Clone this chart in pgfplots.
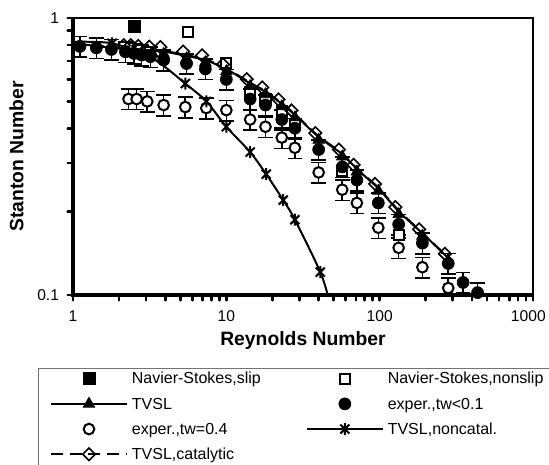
\documentclass[border=0pt]{standalone}
\usepackage{fontspec}
\setmainfont{Liberation Sans}
\usepackage{pgfplots}
\pgfplotsset{compat=1.18}
\pgfdeclareplotmark{xstar}{%
  \pgfpathmoveto{\pgfqpoint{0pt}{\pgfplotmarksize}}%
  \pgfpathlineto{\pgfqpoint{0pt}{-\pgfplotmarksize}}%
  \pgfpathmoveto{\pgfqpoint{-0.75\pgfplotmarksize}{-0.75\pgfplotmarksize}}%
  \pgfpathlineto{\pgfqpoint{0.75\pgfplotmarksize}{0.75\pgfplotmarksize}}%
  \pgfpathmoveto{\pgfqpoint{-0.75\pgfplotmarksize}{0.75\pgfplotmarksize}}%
  \pgfpathlineto{\pgfqpoint{0.75\pgfplotmarksize}{-0.75\pgfplotmarksize}}%
  \pgfusepathqstroke}
\begin{document}
\begin{tikzpicture}
\begin{axis}[
  scale only axis, width=345pt, height=207.75pt,
  xmode=log, ymode=log, xmin=1, xmax=1000, ymin=0.1, ymax=1,
  xtick={1,10,100,1000}, xticklabels={1,10,100,{\kern-7pt 1000}},
  ytick={0.1,1}, yticklabels={0.1,1},
  minor xtick={2,3,4,5,6,7,8,9,20,30,40,50,60,70,80,90,200,300,400,500,600,700,800,900},
  minor ytick={0.2,0.3,0.4,0.5,0.6,0.7,0.8,0.9},
  tick pos=left, tick align=outside,
  major tick length=4pt, minor tick length=4pt,
  every tick/.style={black, line width=2pt, line cap=round},
  axis line style={line width=1.5pt},
  /pgf/number format/assume math mode=true,
  tick label style={font=\fontsize{11.7pt}{14pt}\selectfont},
  xticklabel style={yshift=-4pt},
  yticklabel style={xshift=-3pt},
  xlabel={Reynolds Number}, ylabel={Stanton Number},
  xlabel style={at={(axis description cs:0.5,-0.163)}, anchor=center, font=\bfseries\fontsize{14.5pt}{17pt}\selectfont},
  ylabel style={at={(axis description cs:-0.123,0.5)}, anchor=center, font=\bfseries\fontsize{14.5pt}{17pt}\selectfont},
  legend columns=2, legend cell align=left,
  legend image code/.code={\draw[#1, mark indices={2}] plot coordinates {(0cm,0cm) (1cm,0cm) (2cm,0cm)};},
  legend style={at={(axis description cs:-0.0754,-0.262)}, anchor=north west,
    draw=black!55, line width=0.6pt, inner xsep=8.5pt, inner ysep=2.5pt, row sep=7.9pt,
    font=\fontsize{12pt}{14pt}\selectfont,
    nodes={inner xsep=3pt, inner ysep=0pt, text height=9.5pt, text depth=1.5pt, xshift=-6.5pt},
    /tikz/every even column/.append style={column sep=30.8pt}},
]
% ---- legend images (in the reference's order)
\addlegendimage{black, only marks, mark=square*, mark size=4.5pt, mark options={line width=0.5pt}}
\addlegendentry{Navier-Stokes,slip}
\addlegendimage{black, only marks, mark=square*, mark size=3.8pt, mark options={fill=white, line width=1.5pt}}
\addlegendentry{Navier-Stokes,nonslip}
\addlegendimage{black, line width=1.5pt, mark=triangle*, mark size=5pt, mark options={solid, line width=0.5pt}}
\addlegendentry{TVSL}
\addlegendimage{black, only marks, mark=*, mark size=4.5pt, mark options={line width=0.5pt}}
\addlegendentry{exper.,tw<0.1}
\addlegendimage{black, only marks, mark=*, mark size=4pt, mark options={fill=white, line width=1.5pt}}
\addlegendentry{exper.,tw=0.4}
\addlegendimage{black, line width=1.5pt, mark=xstar, mark size=4.5pt, mark options={solid, line width=1.5pt}}
\addlegendentry{TVSL,noncatal.}
\addlegendimage{black, line width=1.2pt, dash pattern=on 9pt off 5pt, mark=square, mark size=3.3pt, mark options={solid, rotate=45, line width=1.2pt}}
\addlegendentry{TVSL,catalytic}
% ---- data
% Navier-Stokes, slip
\addplot[forget plot, black, only marks, mark=square*, mark size=4.5pt, mark options={line width=0.5pt}]
  coordinates {(2.5,0.935)};
% Navier-Stokes, nonslip
\addplot[forget plot, black, only marks, mark=square*, mark size=3.8pt, mark options={fill=white, line width=1.5pt}]
  coordinates {(5.6,0.89) (10,0.69) (14.3,0.54) (18,0.51) (23,0.46) (28,0.41) (57,0.28) (133,0.165)};
% TVSL
\addplot[forget plot, black, line width=1.5pt, mark=triangle*, mark size=5pt, mark indices={2,...,20}, mark options={solid, line width=0.5pt, yshift=-2pt}]
  coordinates {(1,0.81) (2.25,0.77) (2.5,0.77) (2.8,0.765) (3.3,0.76) (3.9,0.758) (5.5,0.73) (7.3,0.707) (10,0.656) (14.3,0.58) (18,0.542) (23,0.49) (28,0.447) (40,0.371) (57,0.323) (71,0.285) (98,0.243) (133,0.2) (190,0.167) (280,0.136)};
% exper tw<0.1
\addplot[forget plot, black, only marks, mark=*, mark size=4.5pt, mark options={line width=0.5pt},
  error bars/.cd, y dir=both, y fixed relative=0.085,
  error bar style={line width=1.2pt}, error mark options={rotate=90, mark size=5.5pt, line width=1.2pt}]
  coordinates {(1.11,0.79) (1.42,0.78) (1.78,0.77) (2.2,0.755) (2.5,0.745) (2.8,0.735) (3.2,0.725) (3.9,0.705) (5.5,0.685) (7.3,0.655) (10,0.60) (14.3,0.51) (18,0.485) (23,0.43) (28,0.40) (40,0.335) (57,0.29) (71,0.26) (98,0.215) (133,0.18) (190,0.154) (280,0.13) (350,0.111) (435,0.102)};
% exper tw=0.4
\addplot[forget plot, black, only marks, mark=*, mark size=4pt, mark options={fill=white, line width=1.5pt},
  error bars/.cd, y dir=both, y fixed relative=0.085,
  error bar style={line width=1.2pt}, error mark options={rotate=90, mark size=5.5pt, line width=1.2pt}]
  coordinates {(2.3,0.51) (2.6,0.51) (3.05,0.50) (3.9,0.485) (5.4,0.477) (7.4,0.473) (10,0.465) (14.3,0.43) (18,0.405) (23,0.37) (28,0.34) (40,0.277) (57,0.24) (71,0.215) (98,0.175) (133,0.148) (190,0.126) (280,0.106)};
% TVSL noncatalytic
\addplot[forget plot, black, line width=1.5pt, smooth, mark=xstar, mark size=4.5pt, mark indices={2,4,5,6,7,8,9,10,11}, mark options={solid, line width=1.5pt}]
  coordinates {(1,0.82) (1.8,0.81) (3.3,0.715) (5.4,0.58) (7.4,0.50) (10,0.405) (14.3,0.328) (18.2,0.273) (23.5,0.22) (28,0.187) (41,0.121) (47,0.095)};
% TVSL catalytic
\addplot[forget plot, black, line width=1.2pt, dash pattern=on 9pt off 5pt, mark=square, mark size=3.3pt, mark indices={2,...,20}, mark options={solid, rotate=45, line width=1.2pt, yshift=3.5pt}]
  coordinates {(1,0.815) (2.25,0.776) (2.5,0.776) (2.8,0.771) (3.3,0.766) (3.9,0.764) (5.5,0.736) (7.3,0.713) (10,0.661) (14.3,0.585) (18,0.546) (23,0.494) (28,0.451) (40,0.374) (57,0.326) (71,0.287) (98,0.245) (133,0.202) (190,0.168) (280,0.137)};
\coordinate (bl) at (rel axis cs:0,0);
\coordinate (tl) at (rel axis cs:0,1);
\coordinate (tr) at (rel axis cs:1,1);
\coordinate (br) at (rel axis cs:1,0);
\end{axis}
\draw[line width=3.4pt] (tl) -- (bl) -- (br);
\pgfresetboundingbox
\path[use as bounding box] ([shift={(-54.75pt,-126.75pt)}]bl) rectangle ([shift={(12pt,13.5pt)}]tr);
\end{tikzpicture}
\end{document}
